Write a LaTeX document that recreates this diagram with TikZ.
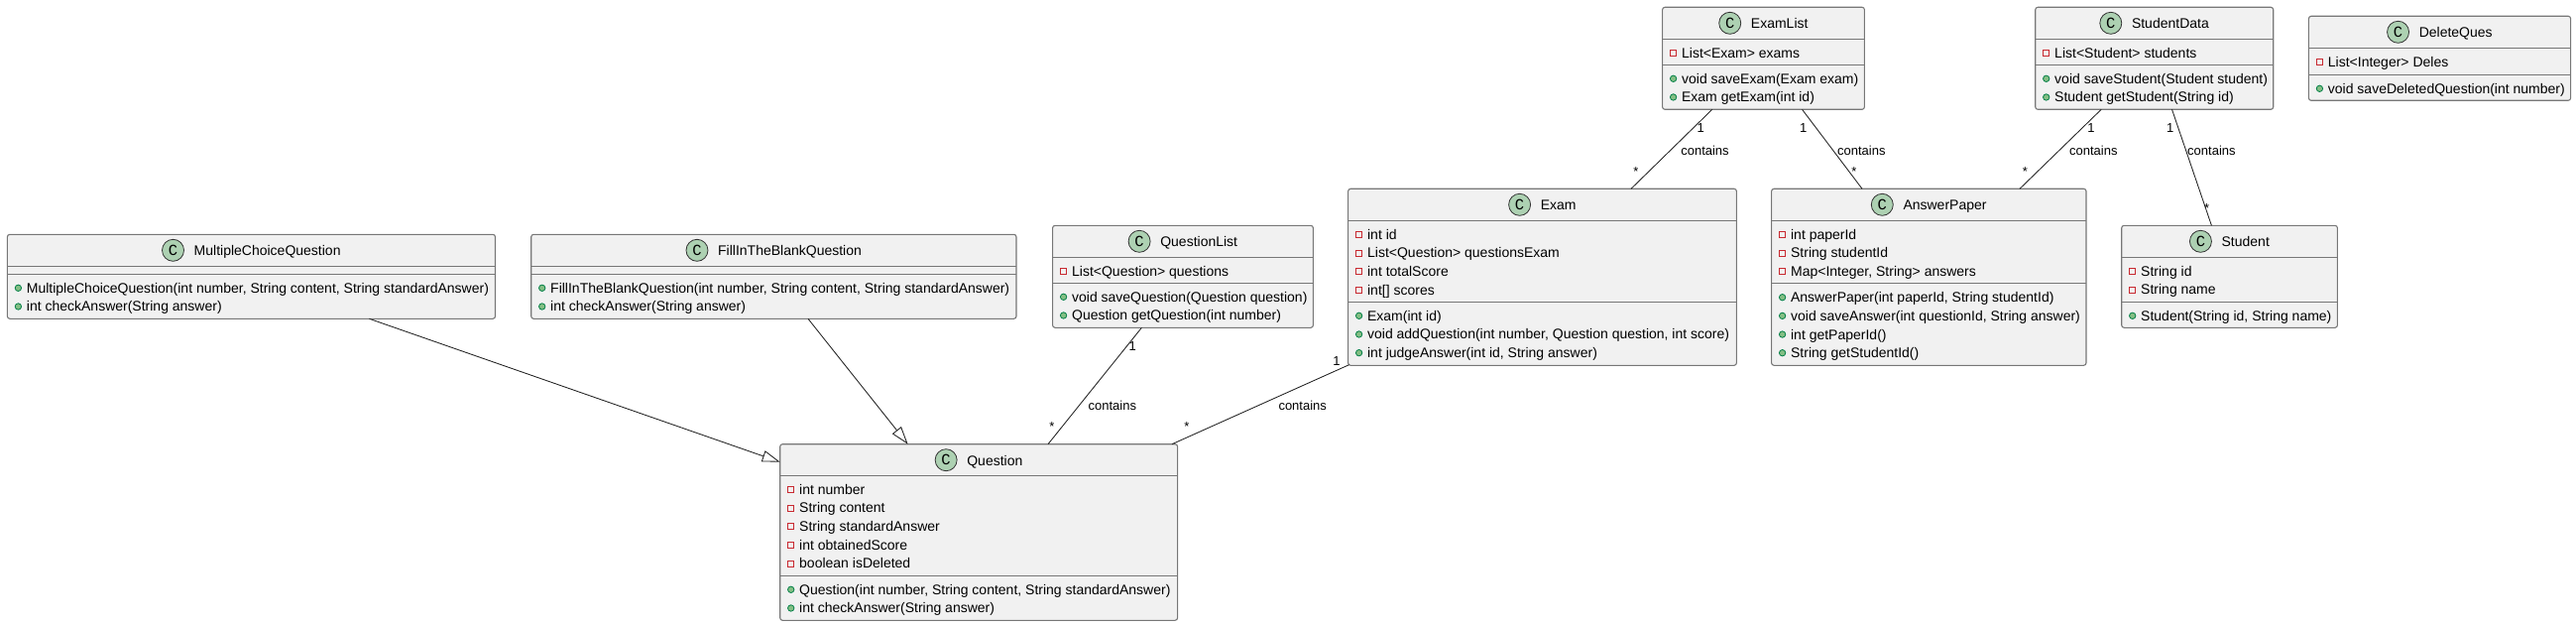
\documentclass[tikz,border=0pt]{standalone}
\usepackage{fontspec}
\setmainfont{Liberation Sans}
\newfontfamily\spotfont{Liberation Mono}
\usetikzlibrary{arrows.meta}
\definecolor{boxfill}{HTML}{F1F1F1}
\definecolor{boxline}{HTML}{777777}
\definecolor{linkline}{HTML}{222222}
\definecolor{spotfill}{HTML}{ADD1B2}
\definecolor{privred}{HTML}{C82930}
\definecolor{pubgreen}{HTML}{84BE84}
\definecolor{publine}{HTML}{038048}
\newcommand{\titlefont}{\fontsize{14}{16}\selectfont}
\newcommand{\labelfont}{\fontsize{13}{15}\selectfont}
\newlength\umlw
\tikzset{
  classbox/.style={draw=boxline,fill=boxfill,line width=1.1pt,rounded corners=2.5pt,inner sep=0pt,outer sep=0pt,rectangle},
  sepline/.style={draw=boxline,line width=1.1pt},
  spot/.style={circle,draw=black!80,fill=spotfill,line width=0.8pt,minimum size=22pt,inner sep=0pt,font={\spotfont\fontsize{15.5}{15.5}\selectfont}},
  titletext/.style={inner sep=0pt,font=\titlefont,text=black},
  rowtext/.style={inner sep=0pt,font=\titlefont,text=black},
  privicon/.style={rectangle,draw=privred,fill=none,line width=0.9pt,minimum size=6pt,inner sep=0pt},
  pubicon/.style={circle,draw=publine,fill=pubgreen,line width=0.8pt,minimum size=6.4pt,inner sep=0pt},
  link/.style={draw=linkline,line width=0.85pt},
  extends/.style={link,-{Triangle[open,fill=white,length=18pt,width=11.5pt,line width=0.85pt]}},
  linklabel/.style={inner sep=0pt,font=\labelfont,text=black},
}
% id, x1, y1, x2, y2, name, sep1, sep2
\newcommand{\umlclass}[8]{%
  \pgfmathsetmacro\bw{#4-#2}\pgfmathsetmacro\bh{#5-#3}%
  \node[classbox,anchor=north west,minimum width=\bw pt,minimum height=\bh pt] (#1) at (#2,#3) {};
  \draw[sepline] (#2,#7) -- (#4,#7);
  \draw[sepline] (#2,#8) -- (#4,#8);
  \setbox0=\hbox{\pgfinterruptpicture\titlefont #6\endpgfinterruptpicture}%
  \umlw=\wd0
  \pgfmathsetmacro\cx{(#2+#4)/2-(\umlw+32)/2+11}%
  \node[spot] (#1-spot) at (\cx,#3+16) {C};
  \node[titletext,anchor=base west] (#1-title) at (\cx+21,#3+21.5) {#6};
}
% id, prefix, icon style, x1, section top, list
\newcommand{\umlrows}[6]{%
  \foreach \rowtxt [count=\rowi from 0] in {#6} {
    \pgfmathsetmacro\ry{#5+14+18.67*\rowi}
    \node[#3] (#1-#2\rowi-icon) at (#4+11,\ry) {};
    \node[rowtext,anchor=base west] (#1-#2\rowi) at (#4+19.3,\ry+5) {\rowtxt};
  }
}
\begin{document}
\begin{tikzpicture}[x=1pt,y=-1pt]
\useasboundingbox (0,0) rectangle (2598,631);
\fill[white] (0,0) rectangle (2598,631);

\umlclass{mcq}{7.4}{236.3}{499.5}{321.3}{MultipleChoiceQuestion}{268.3}{276.3}
\umlrows{mcq}{m}{pubicon}{7.4}{276.3}{{MultipleChoiceQuestion(int number, String content, String standardAnswer)},{int checkAnswer(String answer)}}

\umlclass{fib}{535.7}{236.3}{1025}{321.3}{FillInTheBlankQuestion}{268.3}{276.3}
\umlrows{fib}{m}{pubicon}{535.7}{276.3}{{FillInTheBlankQuestion(int number, String content, String standardAnswer)},{int checkAnswer(String answer)}}

\umlclass{q}{786.7}{447.7}{1187.6}{625.3}{Question}{479.3}{580.3}
\umlrows{q}{a}{privicon}{786.7}{479.3}{{int number},{String content},{String standardAnswer},{int obtainedScore},{boolean isDeleted}}
\umlrows{q}{m}{pubicon}{786.7}{580.3}{{Question(int number, String content, String standardAnswer)},{int checkAnswer(String answer)}}

\umlclass{ql}{1061.6}{227.3}{1324.4}{330.3}{QuestionList}{259.3}{285.3}
\umlrows{ql}{a}{privicon}{1061.6}{259.3}{{List<Question> questions}}
\umlrows{ql}{m}{pubicon}{1061.6}{285.3}{{void saveQuestion(Question question)},{Question getQuestion(int number)}}

\umlclass{exam}{1359.6}{190.3}{1751.4}{368.3}{Exam}{222.3}{304.3}
\umlrows{exam}{a}{privicon}{1359.6}{222.3}{{int id},{List<Question> questionsExam},{int totalScore},{int[] scores}}
\umlrows{exam}{m}{pubicon}{1359.6}{304.3}{{Exam(int id)},{void addQuestion(int number, Question question, int score)},{int judgeAnswer(int id, String answer)}}

\umlclass{el}{1676.6}{7.3}{1880.4}{110.3}{ExamList}{39.3}{65.3}
\umlrows{el}{a}{privicon}{1676.6}{39.3}{{List<Exam> exams}}
\umlrows{el}{m}{pubicon}{1676.6}{65.3}{{void saveExam(Exam exam)},{Exam getExam(int id)}}

\umlclass{sd}{2052.7}{7.3}{2292.7}{110.3}{StudentData}{39.3}{65.3}
\umlrows{sd}{a}{privicon}{2052.7}{39.3}{{List<Student> students}}
\umlrows{sd}{m}{pubicon}{2052.7}{65.3}{{void saveStudent(Student student)},{Student getStudent(String id)}}

\umlclass{dq}{2328.4}{16.3}{2592.6}{101.3}{DeleteQues}{48.3}{75.3}
\umlrows{dq}{a}{privicon}{2328.4}{48.3}{{List<Integer> Deles}}
\umlrows{dq}{m}{pubicon}{2328.4}{75.3}{{void saveDeletedQuestion(int number)}}

\umlclass{ap}{1786.6}{190.3}{2104}{368.3}{AnswerPaper}{222.3}{285.7}
\umlrows{ap}{a}{privicon}{1786.6}{222.3}{{int paperId},{String studentId},{Map<Integer, String> answers}}
\umlrows{ap}{m}{pubicon}{1786.6}{285.7}{{AnswerPaper(int paperId, String studentId)},{void saveAnswer(int questionId, String answer)},{int getPaperId()},{String getStudentId()}}

\umlclass{st}{2139.7}{227.3}{2357.4}{330.3}{Student}{259.3}{304.3}
\umlrows{st}{a}{privicon}{2139.7}{259.3}{{String id},{String name}}
\umlrows{st}{m}{pubicon}{2139.7}{304.3}{{Student(String id, String name)}}

% connectors
\draw[extends] ([xshift=365pt]mcq.south west) -- ([yshift=-18pt]q.north west);
\draw[extends] ([xshift=279.3pt]fib.south west) -- ([xshift=128.9pt]q.north west);
\draw[link] ([xshift=89.8pt]ql.south west) -- ([xshift=270.3pt]q.north west);
\draw[link] ([xshift=1pt,yshift=0.6pt]exam.south west) -- ([xshift=-5.6pt]q.north east);
\draw[link] ([xshift=50.2pt]el.south west) -- ([xshift=285.4pt]exam.north west);
\draw[link] ([xshift=140.9pt]el.south west) -- ([xshift=91.4pt]ap.north west);
\draw[link] ([xshift=66.5pt]sd.south west) -- ([xshift=250.4pt]ap.north west);
\draw[link] ([xshift=137.8pt]sd.south west) -- ([xshift=90.7pt]st.north west);

% labels
\node[linklabel] (l1a) at (1142.2,349) {1};
\node[linklabel] (l1b) at (1061,430) {*};
\node[linklabel] (l1c) at (1121.8,408.7) {contains};
\node[linklabel] (l2a) at (1347.9,363.7) {1};
\node[linklabel] (l2b) at (1196.8,430) {*};
\node[linklabel] (l2c) at (1313.7,408.7) {contains};
\node[linklabel] (l3a) at (1715.3,128.7) {1};
\node[linklabel] (l3b) at (1650,173) {*};
\node[linklabel] (l3c) at (1719.5,152) {contains};
\node[linklabel] (l4a) at (1818.7,128.7) {1};
\node[linklabel] (l4b) at (1870,173) {*};
\node[linklabel] (l4c) at (1877.3,152) {contains};
\node[linklabel] (l5a) at (2108.9,128.7) {1};
\node[linklabel] (l5b) at (2042.4,173) {*};
\node[linklabel] (l5c) at (2111.3,152) {contains};
\node[linklabel] (l6a) at (2188.7,128.7) {1};
\node[linklabel] (l6b) at (2225.6,210) {*};
\node[linklabel] (l6c) at (2230.4,152) {contains};
\end{tikzpicture}
\end{document}
